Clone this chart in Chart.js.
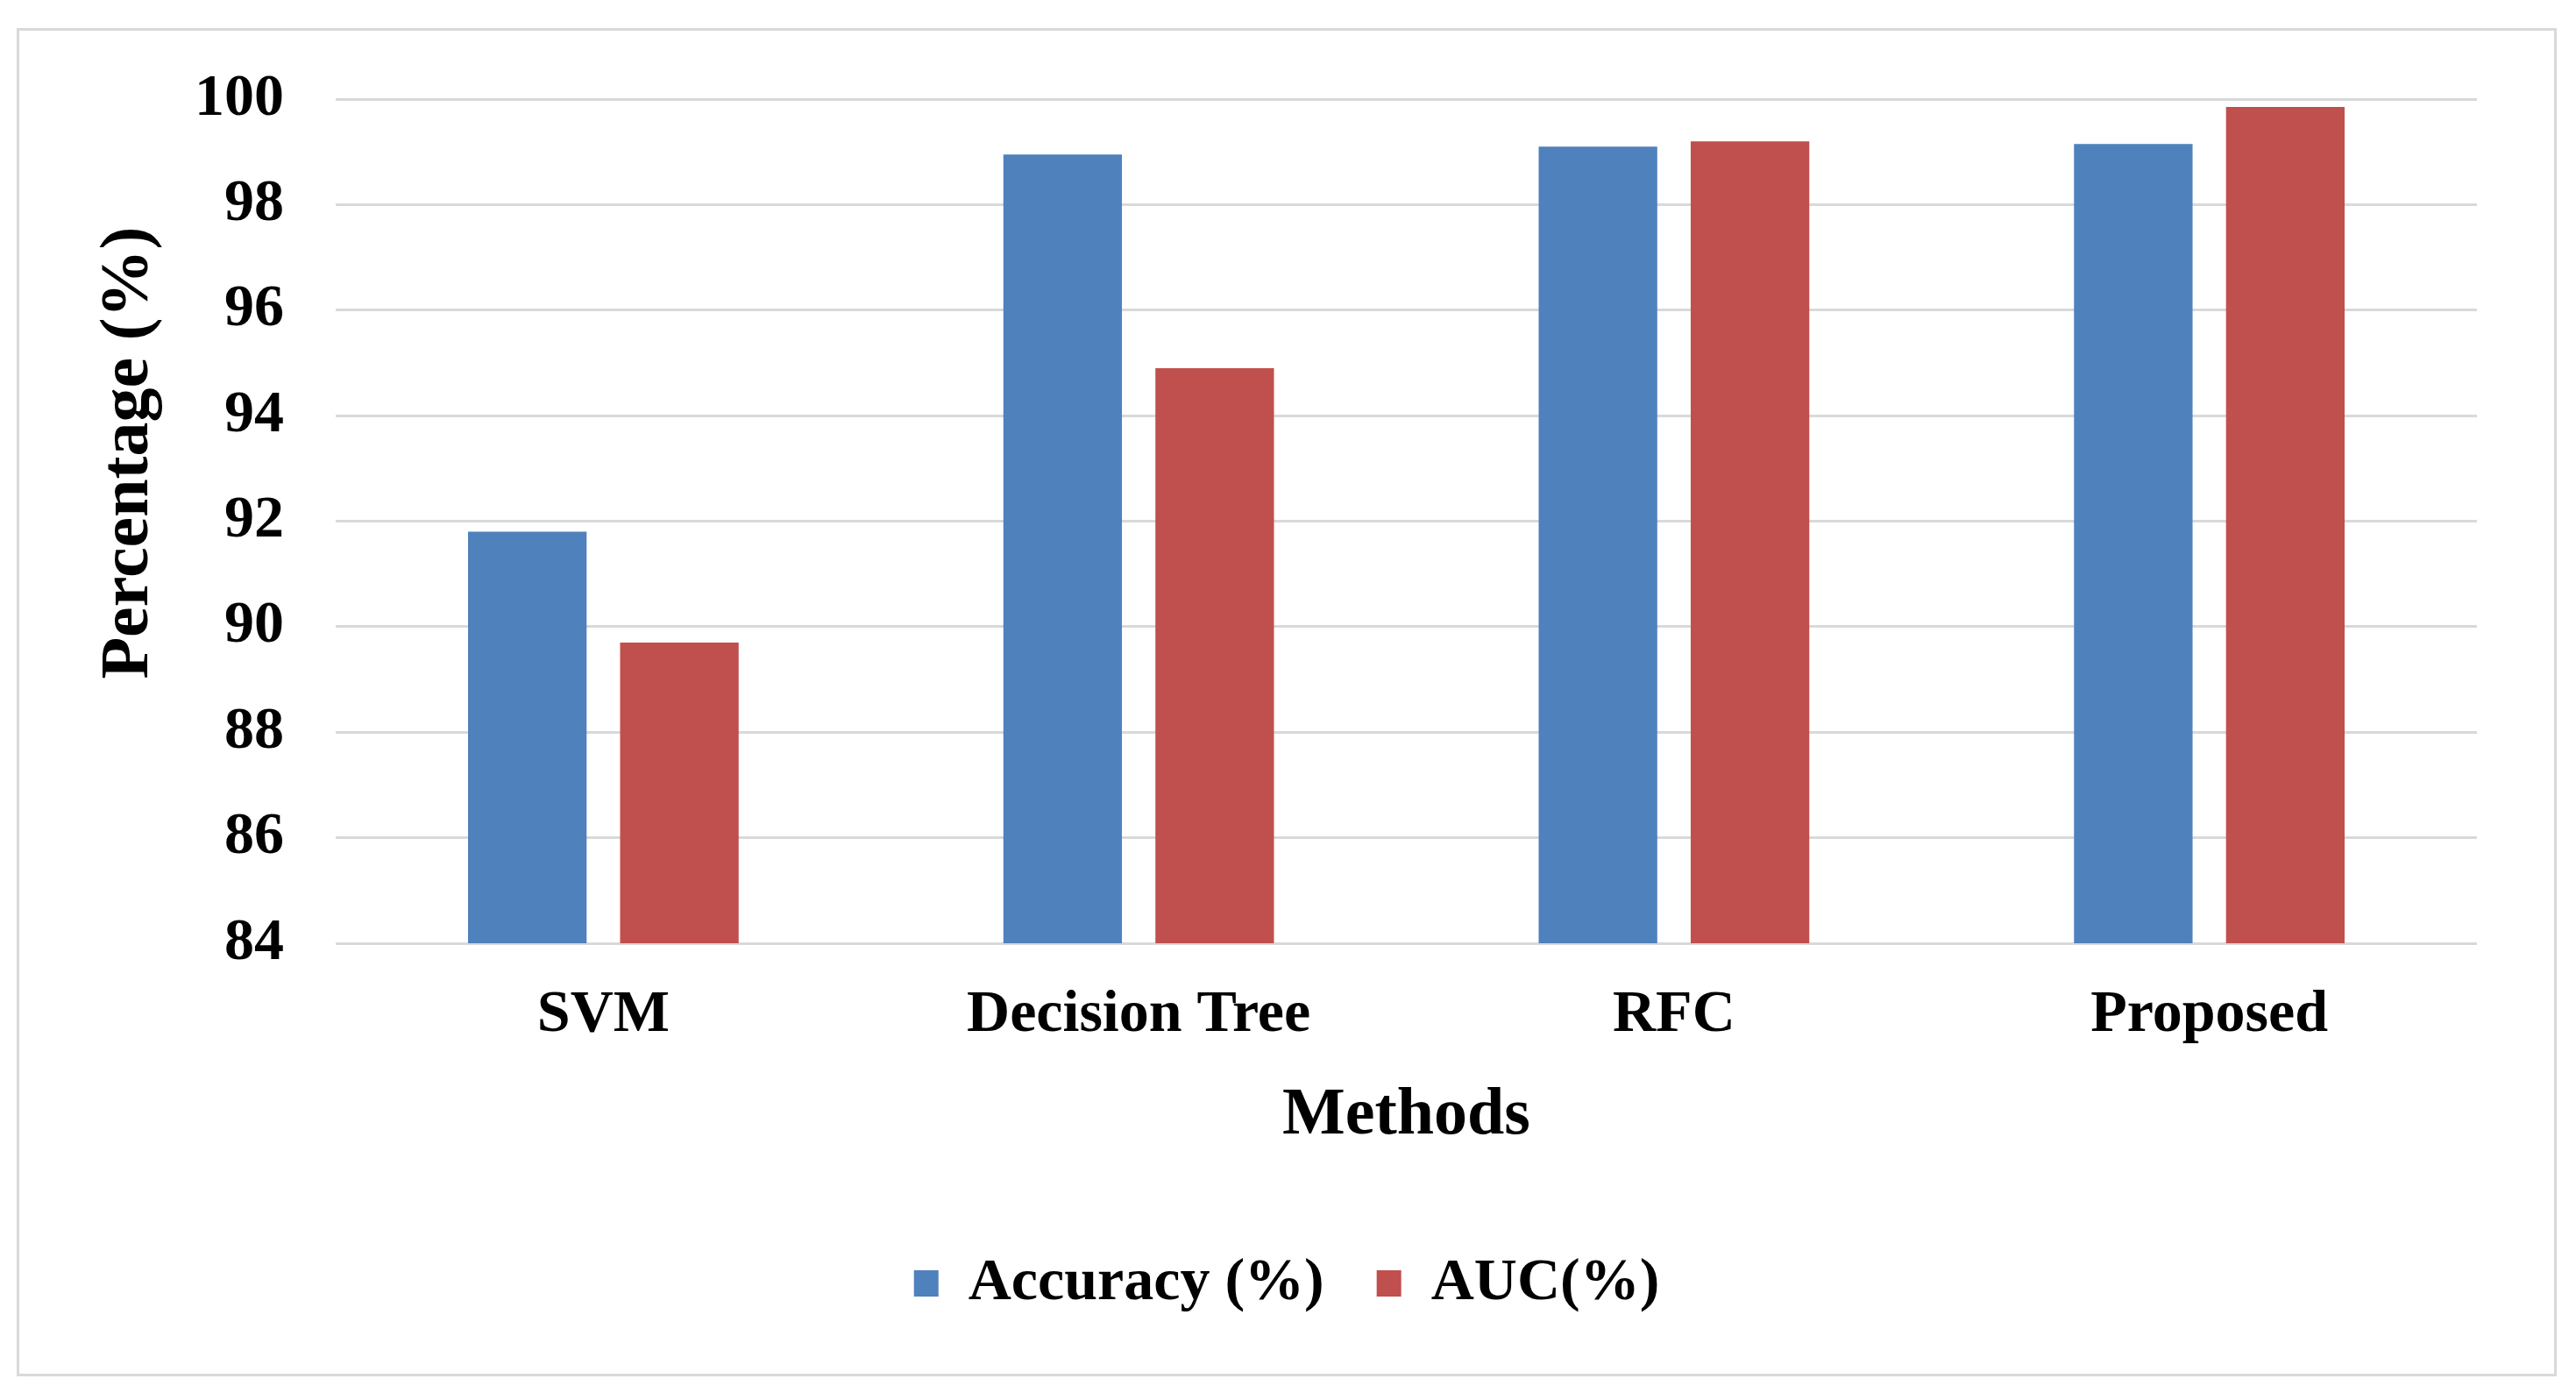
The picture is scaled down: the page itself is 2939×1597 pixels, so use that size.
<!DOCTYPE html>
<html>
<head>
<meta charset="utf-8">
<script src="https://cdn.jsdelivr.net/npm/chart.js@4.4.1/dist/chart.umd.min.js"></script>
<style>
  html, body { margin: 0; padding: 0; background: #fff; }
  #frame {
    position: absolute; left: 19px; top: 32px;
    width: 2892px; height: 1532px;
    border: 3px solid #d9d9d9; background: #fff;
  }
  #myChart { display: block; }
</style>
</head>
<body>
<div id="frame"><canvas id="myChart" width="2892" height="1532"></canvas></div>
<script>
// values
const methods = ["SVM", "Decision Tree", "RFC", "Proposed"];
const accuracy = [91.8, 98.95, 99.1, 99.15];
const auc = [89.7, 94.9, 99.2, 99.85];
const yTicks = [84, 86, 88, 90, 92, 94, 96, 98, 100];

const serif = "'Liberation Serif', 'Times New Roman', serif";

var ctx = document.getElementById('myChart').getContext('2d');

var mychart = new Chart(ctx, {
    type: 'bar',
    data: {
        labels: methods,
        datasets: [{
            label: 'Accuracy (%)',
            data: accuracy,
            backgroundColor: '#4f81bd',
            borderWidth: 0
        }, {
            label: 'AUC(%)',
            data: auc,
            backgroundColor: '#c0504d',
            borderWidth: 0
        }]
    },
    options: {
        responsive: false,
        animation: false,
        devicePixelRatio: 1,
        layout: {
            padding: { left: 88, right: 88, top: 78, bottom: 59 }
        },
        datasets: {
            bar: { categoryPercentage: 0.568, barPercentage: 0.78 }
        },
        plugins: {
            tooltip: { enabled: false },
            legend: {
                position: 'bottom',
                labels: {
                    color: '#000',
                    boxWidth: 28,
                    boxHeight: 30,
                    padding: 60,
                    font: { family: serif, size: 68, weight: 'bold' }
                }
            }
        },
        scales: {
            x: {
                grid: { display: false, drawTicks: false },
                border: { display: false },
                ticks: {
                    color: '#000',
                    padding: 42,
                    font: { family: serif, size: 68, weight: 'bold' }
                },
                title: {
                    display: true,
                    text: 'Methods',
                    color: '#000',
                    padding: { top: 0, bottom: 51 },
                    font: { family: serif, size: 76, weight: 'bold' }
                },
                afterFit: function (scale) { scale.height = 294; }
            },
            y: {
                min: 84,
                max: 100,
                afterBuildTicks: function (scale) {
                    scale.ticks = yTicks.map(v => ({ value: v }));
                },
                grid: {
                    color: '#d9d9d9',
                    lineWidth: 3,
                    drawTicks: true,
                    tickLength: 49,
                    tickColor: 'rgba(0,0,0,0)'
                },
                border: { display: false },
                ticks: {
                    color: '#000',
                    padding: 10,
                    font: { family: serif, size: 68, weight: 'bold' }
                },
                title: {
                    display: true,
                    text: '\u00a0\u00a0\u00a0\u00a0\u00a0\u00a0\u00a0\u00a0Percentage (%)',
                    color: '#000',
                    padding: { top: -9, bottom: 0 },
                    font: { family: serif, size: 78, weight: 'bold' }
                },
                afterFit: function (scale) { scale.width = 273; }
            }
        }
    }
});
</script>
</body>
</html>
